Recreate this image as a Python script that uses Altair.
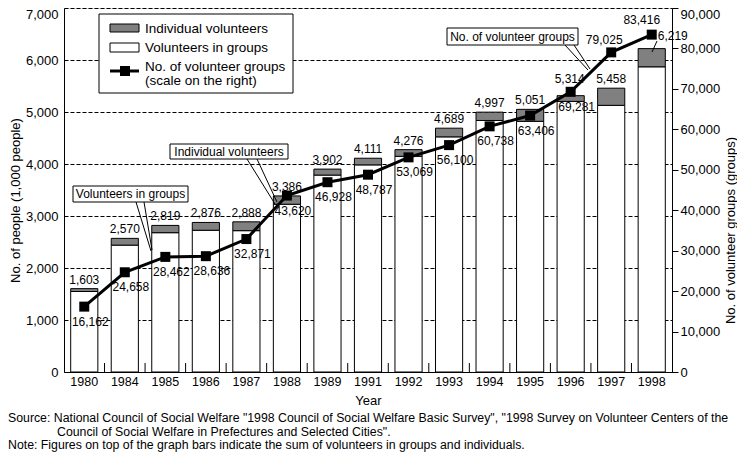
import altair as alt
import pandas as pd

FONT = "Liberation Sans"

years = ["1980", "1984", "1985", "1986", "1987", "1988", "1989", "1991",
         "1992", "1993", "1994", "1995", "1996", "1997", "1998"]
total = [1603, 2570, 2819, 2876, 2888, 3386, 3902, 4111,
         4276, 4689, 4997, 5051, 5314, 5458, 6219]
individual = [55, 130, 140, 150, 170, 160, 115, 128,
              128, 167, 160, 230, 110, 330, 350]
group_count = [16162, 24658, 28462, 28636, 32871, 43620, 46928, 48787,
               53069, 56100, 60738, 63406, 69281, 79025, 83416]
left_ticks = [0, 1000, 2000, 3000, 4000, 5000, 6000, 7000]
right_ticks = [0, 10000, 20000, 30000, 40000, 50000, 60000, 70000, 80000, 90000]

df = pd.DataFrame({
    "year": years,
    "total": total,
    "individual": individual,
    "groups": group_count,
})
df["in_groups"] = df["total"] - df["individual"]

W, H = 608, 364
STEP = W / len(years)

xenc = alt.X(
    "year:N", sort=years,
    scale=alt.Scale(paddingInner=0.33, paddingOuter=0.165),
    axis=alt.Axis(title="Year", labelAngle=0, ticks=False, labelPadding=3,
                  titlePadding=7, labelFontSize=12.5, titleFontSize=13,
                  domainColor="black", labelColor="black", titleColor="black",
                  titleFontWeight="normal", labelFont=FONT, titleFont=FONT),
)

yl_scale = alt.Scale(domain=[0, 7000], nice=False, zero=True)
yl_axis = alt.Axis(
    title="No. of people (1,000 people)", values=left_ticks, format=",d",
    grid=True, gridDash=[4, 2], gridColor="black", gridOpacity=1,
    ticks=False, labelPadding=6, labelFontSize=13, titleFontSize=13,
    labelBaseline={"expr": "datum.value == 7000 ? 'top' : 'middle'"},
    titleX=-49, titleY=192, titleAngle=270, titleAlign="center",
    titleBaseline="middle", domainColor="black", labelColor="black",
    titleColor="black", titleFontWeight="normal", labelFont=FONT, titleFont=FONT,
)

yr_scale = alt.Scale(domain=[0, 90000], nice=False, zero=True)
yr_axis = alt.Axis(
    title="No. of volunteer groups (groups)", orient="right", values=right_ticks,
    format=",d", grid=False, tickSize=6, tickColor="black", labelPadding=2,
    labelFontSize=13, titleFontSize=13,
    labelBaseline={"expr": "datum.value == 90000 ? 'top' : 'middle'"},
    titleX=58, titleY=222, titleAngle=270, titleAlign="center",
    titleBaseline="middle", domainColor="black", labelColor="black",
    titleColor="black", titleFontWeight="normal", labelFont=FONT, titleFont=FONT,
)

base = alt.Chart(df)

bars_white = base.mark_bar(fill="white", stroke="black", strokeWidth=1).encode(
    x=xenc, y=alt.Y("in_groups:Q", scale=yl_scale, axis=yl_axis))
bars_grey = base.mark_bar(fill="#808080", stroke="black", strokeWidth=1).encode(
    x=xenc, y=alt.Y("in_groups:Q", scale=yl_scale, axis=yl_axis), y2="total:Q")
band_ticks = base.transform_filter(alt.datum.year != "1980").mark_rule(
    color="black", xOffset=-STEP / 2).encode(
    x=xenc, y=alt.value(H), y2=alt.value(H - 9))

def total_text(cond, dx, dy):
    return base.transform_filter(cond).mark_text(
        font=FONT, fontSize=12, color="black", dx=dx, dy=dy, baseline="middle"
    ).encode(x=xenc, y=alt.Y("total:Q", scale=yl_scale, axis=yl_axis),
             text=alt.Text("total:Q", format=",d"))

tot_default = total_text("datum.year != '1996' && datum.year != '1998'", 0, -9)
tot_1996 = total_text("datum.year == '1996'", -1, -17)
tot_1998 = total_text("datum.year == '1998'", 21, -13)

left = alt.layer(bars_white, bars_grey, band_ticks, tot_default, tot_1996, tot_1998)

line = base.mark_line(color="black", strokeWidth=3).encode(
    x=xenc, y=alt.Y("groups:Q", scale=yr_scale, axis=yr_axis))
pts = base.mark_square(color="black", size=100, opacity=1).encode(
    x=xenc, y=alt.Y("groups:Q", scale=yr_scale, axis=yr_axis))

def grp_text(cond, dx, dy):
    return base.transform_filter(cond).mark_text(
        font=FONT, fontSize=12, color="black", dx=dx, dy=dy, baseline="middle"
    ).encode(x=xenc, y=alt.Y("groups:Q", scale=yr_scale, axis=yr_axis),
             text=alt.Text("groups:Q", format=",d"))

grp_default = grp_text("datum.year != '1997' && datum.year != '1998'", 6, 15)
grp_1997 = grp_text("datum.year == '1997'", -7, -12)
grp_1998 = grp_text("datum.year == '1998'", -10, -15)

right = alt.layer(line, pts, grp_default, grp_1997, grp_1998)

one = alt.InlineData(values=[{"k": 1}])

def box(x1, y1, x2, y2, fill="white"):
    return alt.Chart(one).mark_rect(fill=fill, stroke="black", strokeWidth=1).encode(
        x=alt.value(x1), x2=alt.value(x2), y=alt.value(y1), y2=alt.value(y2))

def seg(x1, y1, x2, y2, w=1):
    return alt.Chart(one).mark_rule(color="black", strokeWidth=w).encode(
        x=alt.value(x1), x2=alt.value(x2), y=alt.value(y1), y2=alt.value(y2))

def label(x, y, txt, size=12, align="center"):
    return alt.Chart(one).mark_text(
        text=txt, font=FONT, fontSize=size, color="black", align=align,
        baseline="middle").encode(x=alt.value(x), y=alt.value(y))

# legend
legend = [
    box(35, 6, 229, 85),
    box(46, 16, 75, 24, fill="#808080"),
    box(46, 35, 75, 44),
    seg(46, 63, 75, 63, w=3),
    alt.Chart(one).mark_square(color="black", size=100, opacity=1).encode(
        x=alt.value(61), y=alt.value(63)),
    label(81, 21, "Individual volunteers", 13.5, "left"),
    label(81, 40, "Volunteers in groups", 13.5, "left"),
    label(81, 59, "No. of volunteer groups", 13.5, "left"),
    label(81, 73, "(scale on the right)", 13.5, "left"),
]

# callouts
callouts = [
    seg(72, 194, 87, 243), seg(80, 194, 88, 242),
    box(9, 178, 124, 194), label(66.5, 186, "Volunteers in groups"),
    seg(183, 151, 211, 196), seg(193, 151, 213, 194),
    box(106, 136, 224, 151), label(165, 143.5, "Individual volunteers"),
    seg(501, 37, 524, 62), seg(510, 37, 526, 61),
    box(383, 20, 514, 37), label(448.5, 28.5, "No. of volunteer groups"),
    seg(593, 33, 588, 44),
]

notes = [
    label(-56, 410, "Source:  National Council of Social Welfare \"1998 Council of Social Welfare Basic Survey\", \"1998 Survey on Volunteer Centers of the", 12.3, "left"),
    label(-7, 423.5, "Council of Social Welfare in Prefectures and Selected Cities\".", 12.3, "left"),
    label(-56, 437, "Note:  Figures on top of the graph bars indicate the sum of volunteers in groups and individuals.", 12.3, "left"),
]

chart = alt.layer(left, right, *legend, *callouts, *notes).resolve_scale(
    y="independent"
).properties(
    width=W, height=H,
    autosize=alt.AutoSizeParams(type="none"),
    padding={"left": 56, "top": 0, "right": 65, "bottom": 82},
).configure_view(stroke=None).configure(font=FONT)

chart.save("out.html", embed_options={"renderer": "svg", "actions": False})
